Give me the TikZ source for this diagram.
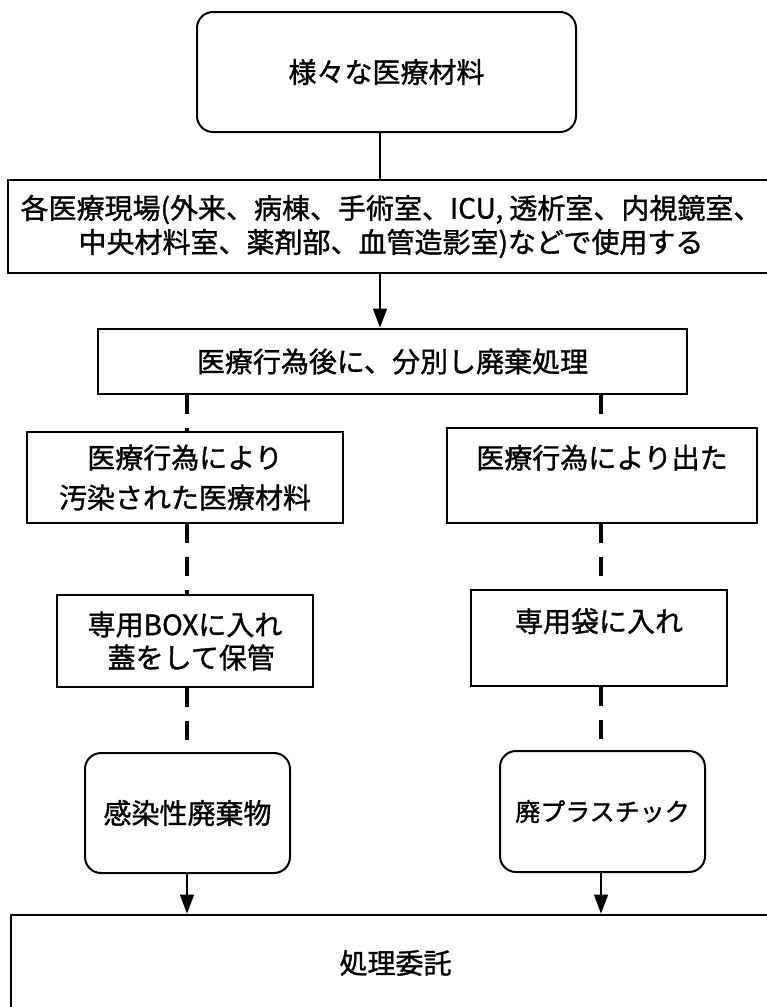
\documentclass[tikz,border=0pt]{standalone}
\usepackage{fontspec}
\setmainfont{Noto Sans CJK JP}[FakeBold=1.2]
\usetikzlibrary{arrows.meta}

\begin{document}
\begin{tikzpicture}[
        >={Triangle[length=19pt,width=14pt]},
        every node/.style={font=\fontsize{28}{34}\selectfont, align=center, inner sep=0pt},
        box/.style={draw, line width=1.6pt},
        heavy/.style={draw, line width=2.8pt},
        soft/.style={draw, line width=2pt, rounded corners=16pt},
        flow/.style={->, line width=1.6pt},
        cut/.style={line width=4pt, dash pattern=on 19pt off 14pt},
        yscale=-1,
        x=1pt,
        y=1pt
    ]
    \useasboundingbox (0,0) rectangle (766,1007);
    \coordinate (trunk) at (380,0);
    \coordinate (lcol) at (187,0);
    \coordinate (rcol) at (601,0);

    \node[soft, minimum width=379pt, minimum height=120pt] (mat) at (386.5,72) {様々な医療材料};
    \node[box, minimum width=766pt, minimum height=93pt] (sites) at (391,226.5) {
            各医療現場(外来、病棟、手術室、ICU, 透析室、内視鏡室、\\
            中央材料室、薬剤部、血管造影室)などで使用する
        };
    \node[heavy, minimum width=589pt, minimum height=65pt] (sort) at (392.5,361.5) {医療行為後に、分別し廃棄処理};

    % left column
    \node[box, minimum width=316pt, minimum height=91pt, font=\fontsize{28}{40}\selectfont] (contam) at (185,477.5) {
            医療行為により\\汚染された医療材料
        };
    \node[box, minimum width=256pt, minimum height=92pt, font=\fontsize{28}{33}\selectfont] (boxin) at (185,641) {
            専用BOXに入れ\\\ \ 蓋をして保管
        };
    \node[soft, minimum width=205pt, minimum height=120pt] (infect) at (187.5,813) {感染性廃棄物};

    % right column
    \node[box, minimum width=310pt, minimum height=95pt] (used) at (602,475.5) {
            医療行為により出た\\[4pt]\mbox{}
        };
    \node[box, minimum width=256pt, minimum height=96pt] (bagin) at (599,638) {
            専用袋に入れ\\[2pt]\mbox{}
        };
    \node[soft, minimum width=205pt, minimum height=121pt, font=\fontsize{25}{30}\selectfont] (plastic) at (602.5,811.5) {廃プラスチック};

    \node[heavy, minimum width=769pt, minimum height=96pt] (entrust) at (395.5,963) {処理委託};

    \draw[line width=1.6pt] (mat.south -| trunk) -- (sites.north -| trunk);
    \draw[flow] (sites.south -| trunk) -- (sort.north -| trunk);

    \draw[cut] (sort.south -| lcol) -- (contam.north -| lcol);
    \draw[cut] (contam.south -| lcol) -- (boxin.north -| lcol);
    \draw[cut] (boxin.south -| lcol) -- (infect.north -| lcol);
    \draw[flow] (infect.south -| lcol) -- (entrust.north -| lcol);

    \draw[cut] (sort.south -| rcol) -- (used.north -| rcol);
    \draw[cut] (used.south -| rcol) -- (bagin.north -| rcol);
    \draw[cut] (bagin.south -| rcol) -- (plastic.north -| rcol);
    \draw[flow] (plastic.south -| rcol) -- (entrust.north -| rcol);
\end{tikzpicture}
\end{document}
